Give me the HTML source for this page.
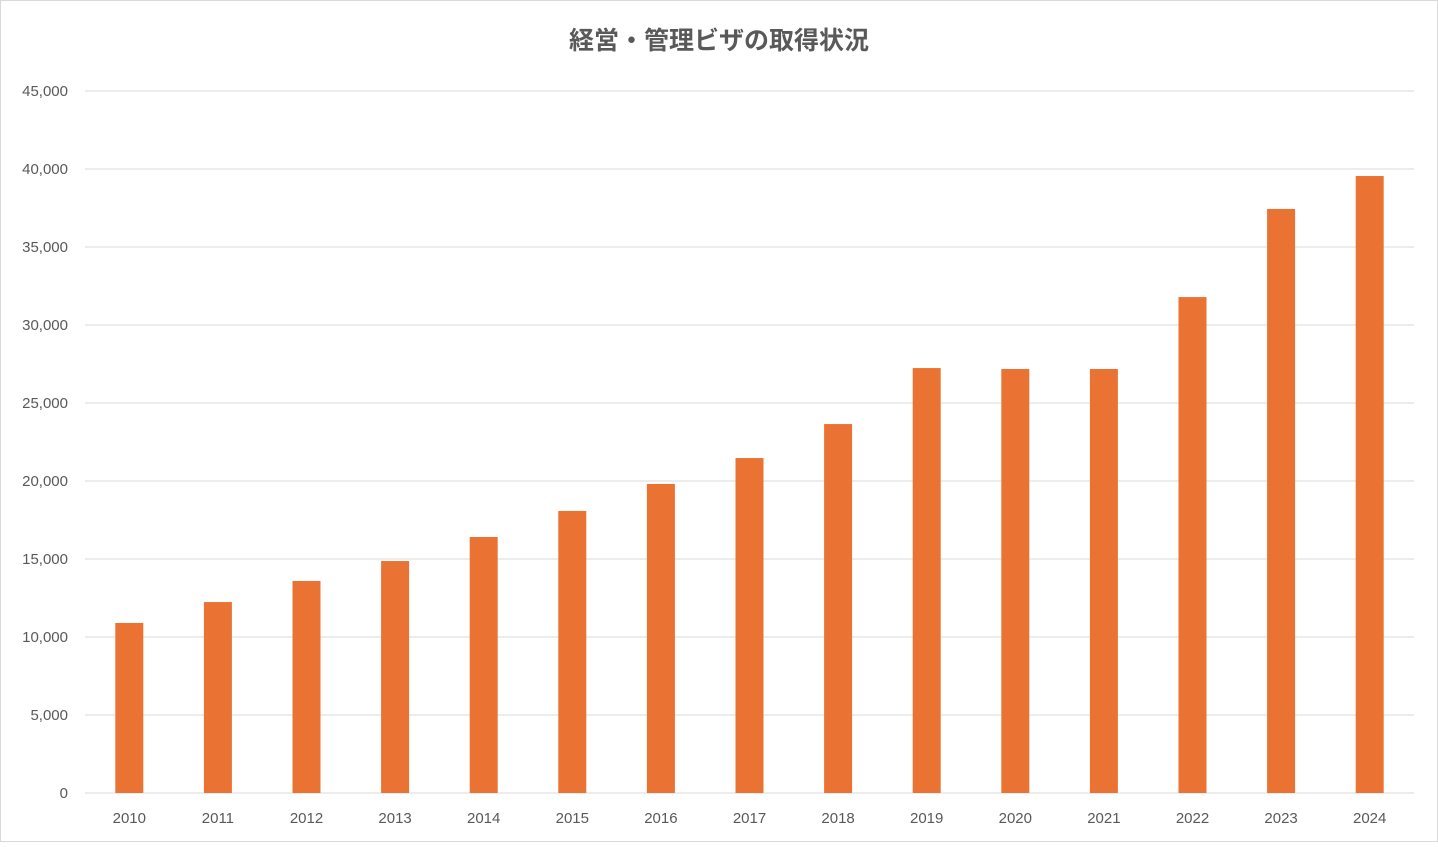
<!DOCTYPE html>
<html><head><meta charset="utf-8"><style>
html,body{margin:0;padding:0;background:#fff;}
#chart{position:relative;width:1438px;height:842px;}
svg text{font-family:"Liberation Sans","Noto Sans CJK JP",sans-serif;}
</style></head><body>
<div id="chart">
<svg id="svg" width="1438" height="842">
<rect x="0.5" y="0.5" width="1437" height="841" fill="#fff" stroke="#d9d9d9"/>
<text x="719" y="49" text-anchor="middle" font-size="25" font-weight="bold" fill="#595959">経営・管理ビザの取得状況</text>
<g id="grid"></g>
<g id="bars"></g>
<g id="yaxis"></g>
<g id="xaxis"></g>
</svg>
</div>
<script>
const categories=["2010","2011","2012","2013","2014","2015","2016","2017","2018","2019","2020","2021","2022","2023","2024"];
const values=[10900,12240,13590,14870,16410,18080,19810,21470,23650,27240,27180,27180,31790,37440,39550];
const yTicks=[0,5000,10000,15000,20000,25000,30000,35000,40000,45000];
const NS="http://www.w3.org/2000/svg";
const x0=85,x1=1414,yTop=91,yBot=793,yMax=45000;
const band=(x1-x0)/categories.length;
const yS=v=>yBot-(v/yMax)*(yBot-yTop);
const xS=i=>x0+band*(i+0.5);
function mk(t,a,p){const e=document.createElementNS(NS,t);for(const k in a)e.setAttribute(k,a[k]);p.appendChild(e);return e;}
const grid=document.getElementById('grid'),yax=document.getElementById('yaxis'),xax=document.getElementById('xaxis'),bars=document.getElementById('bars');
yTicks.forEach(v=>{
 const l=mk('line',{x1:x0,x2:x1,y1:yS(v),y2:yS(v),stroke:'#d9d9d9','stroke-width':1},grid);
 
 
 const t=mk('text',{x:68,y:yS(v)+5,'text-anchor':'end','font-size':15,fill:'#595959'},yax);
 t.textContent=v.toLocaleString('en-US');
 
 
});
values.forEach((v,i)=>{
 const r=mk('rect',{x:xS(i)-14,y:yS(v),width:28,height:yBot-yS(v),fill:'#ea7333'},bars);
 
 
 const t=mk('text',{x:xS(i),y:823,'text-anchor':'middle','font-size':15,fill:'#595959'},xax);
 t.textContent=categories[i];
 
 
});
</script>
</body></html>
